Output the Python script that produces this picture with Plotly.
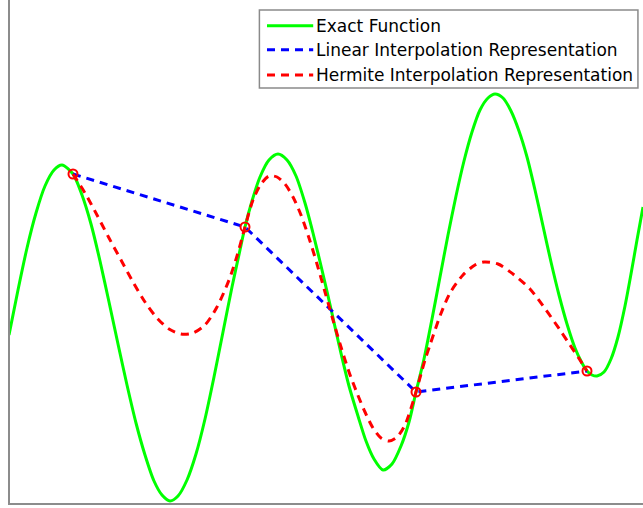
import plotly.graph_objects as go

# Exact function, sampled along the interval
x_exact = [0.00, 0.09, 0.18, 0.27, 0.36, 0.45, 0.53,
           0.64, 0.73, 0.82, 0.91, 1.00, 1.09, 1.18, 1.27, 1.36, 1.45, 1.53, 1.61,
           1.69, 1.78, 1.87, 1.96, 2.05, 2.14, 2.23, 2.31, 2.36, 2.43, 2.51, 2.60, 2.69,
           2.78, 2.87, 2.96, 3.04, 3.13, 3.22, 3.31, 3.40, 3.49, 3.57, 3.65, 3.74,
           3.83, 3.92, 4.00, 4.07, 4.15, 4.23, 4.31, 4.39, 4.47, 4.55, 4.63, 4.71, 4.79, 4.86,
           4.94, 5.02, 5.10, 5.18, 5.26, 5.34, 5.42, 5.50, 5.58, 5.66, 5.73, 5.78, 5.83, 5.88,
           5.95, 6.02, 6.09, 6.16, 6.22, 6.28, 6.34]
y_exact = [1.69, 2.14, 2.56, 2.91, 3.18, 3.34, 3.39,
           3.30, 3.09, 2.80, 2.43, 2.02, 1.60, 1.19, 0.81, 0.49, 0.23, 0.09, 0.03,
           0.08, 0.24, 0.50, 0.85, 1.27, 1.72, 2.17, 2.54, 2.77, 3.03, 3.27, 3.44, 3.50,
           3.44, 3.28, 3.01, 2.71, 2.34, 1.95, 1.55, 1.18, 0.88, 0.63, 0.45, 0.34,
           0.40, 0.58, 0.82, 1.12, 1.45, 1.85, 2.27, 2.69, 3.08, 3.43, 3.72, 3.94, 4.06, 4.10,
           4.06, 3.93, 3.73, 3.47, 3.14, 2.78, 2.42, 2.09, 1.80, 1.56, 1.41, 1.33, 1.29, 1.28,
           1.32, 1.45, 1.67, 1.98, 2.30, 2.64, 2.97]

# Interpolation nodes
x_nodes = [0.64, 2.36, 4.07, 5.78]
y_nodes = [3.30, 2.77, 1.12, 1.33]

# Piecewise cubic Hermite interpolant through the nodes
x_herm = [0.64, 0.76, 0.88, 1.00, 1.12, 1.24, 1.36, 1.48, 1.60, 1.72, 1.84, 1.96,
          2.08, 2.20, 2.28, 2.36,
          2.44, 2.52, 2.60, 2.68, 2.76, 2.84, 2.92, 3.00, 3.08, 3.16, 3.24, 3.32,
          3.40, 3.48, 3.56, 3.64, 3.72, 3.80, 3.88, 3.96, 4.07,
          4.12, 4.16, 4.21, 4.31, 4.41, 4.54, 4.66, 4.75, 4.89, 5.04, 5.21, 5.37,
          5.51, 5.59, 5.69, 5.78]
y_herm = [3.30, 3.11, 2.89, 2.66, 2.44, 2.22, 2.02, 1.86, 1.75, 1.70, 1.71, 1.79,
          1.97, 2.24, 2.48, 2.77,
          3.04, 3.20, 3.28, 3.27, 3.20, 3.07, 2.89, 2.66, 2.40, 2.12, 1.84, 1.57,
          1.32, 1.11, 0.92, 0.76, 0.66, 0.63, 0.67, 0.79, 1.12,
          1.30, 1.44, 1.59, 1.88, 2.11, 2.29, 2.39, 2.42, 2.40, 2.30, 2.15, 1.94,
          1.74, 1.62, 1.47, 1.33]

names = ["Exact Function",
         "Linear Interpolation Representation",
         "Hermite Interpolation Representation"]
colors = ["#00ff00", "#0000ff", "#ff0000"]
dashes = ["solid", "8px,6px", "8px,6px"]

fig = go.Figure()
fig.add_trace(go.Scatter(
    x=x_exact, y=y_exact, mode="lines", name=names[0], showlegend=False,
    line=dict(color=colors[0], width=3, shape="spline", smoothing=0.8),
))
fig.add_trace(go.Scatter(
    x=x_nodes, y=y_nodes, mode="lines", name=names[1], showlegend=False,
    line=dict(color=colors[1], width=3, dash=dashes[1]),
))
fig.add_trace(go.Scatter(
    x=x_herm, y=y_herm, mode="lines", name=names[2], showlegend=False,
    line=dict(color=colors[2], width=3, dash=dashes[2], shape="spline", smoothing=0.8),
))
fig.add_trace(go.Scatter(
    x=x_nodes, y=y_nodes, mode="markers", showlegend=False,
    marker=dict(symbol="circle-open", size=9, color=colors[2],
                line=dict(width=2, color=colors[2])),
))

# Boxed legend in the upper right corner (paper coordinates of the plot area)
box_x0, box_x1 = 0.394, 0.992
box_y0, box_y1 = 0.825, 0.980
sample_x0, sample_x1 = 0.406, 0.479
text_x = 0.480
row_y = [0.949, 0.901, 0.851]

shapes = [dict(type="rect", xref="paper", yref="paper",
               x0=box_x0, x1=box_x1, y0=box_y0, y1=box_y1,
               line=dict(color="#8a8a8a", width=1.5), fillcolor="white", layer="above")]
annotations = []
for name, color, dash, ry in zip(names, colors, dashes, row_y):
    shapes.append(dict(type="line", xref="paper", yref="paper",
                       x0=sample_x0, x1=sample_x1, y0=ry, y1=ry, layer="above",
                       line=dict(color=color, width=3, dash=dash)))
    annotations.append(dict(xref="paper", yref="paper", x=text_x, y=ry,
                            xanchor="left", yanchor="middle", showarrow=False,
                            text=name,
                            font=dict(family="DejaVu Sans", size=17, color="black")))

axis_style = dict(
    showgrid=False, zeroline=False, showticklabels=False, ticks="",
    showline=True, linecolor="#8c8c8c", linewidth=2, mirror=False,
)

fig.update_layout(
    width=643, height=508,
    margin=dict(l=10, r=0, t=0, b=5, pad=0),
    paper_bgcolor="white", plot_bgcolor="white",
    xaxis=dict(range=[0.01, 6.34], **axis_style),
    yaxis=dict(range=[0.01, 5.04], **axis_style),
    shapes=shapes,
    annotations=annotations,
    showlegend=False,
)

fig.write_html("out.html")
